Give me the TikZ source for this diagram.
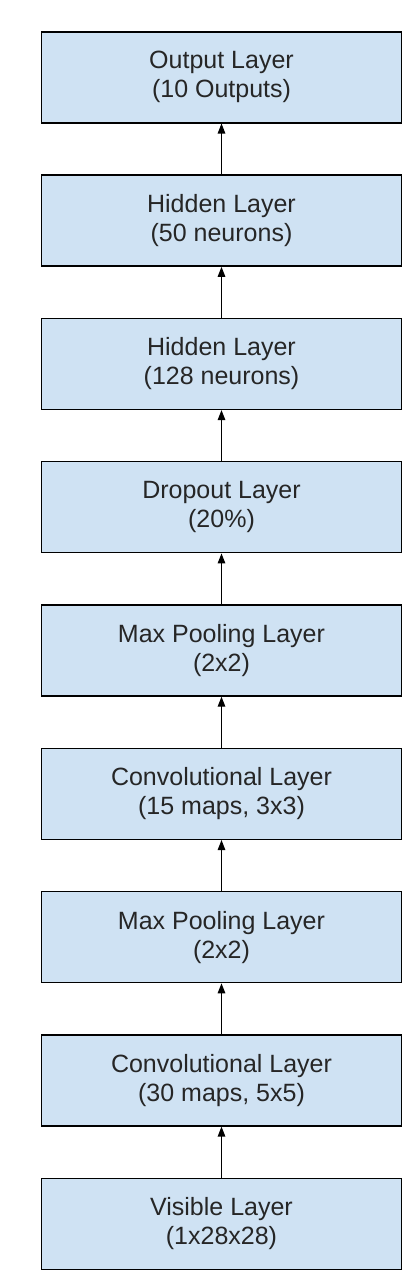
\documentclass[tikz,border=0pt]{standalone}
\usepackage{fontspec}
\setmainfont{Liberation Sans}
\usetikzlibrary{arrows.meta,positioning}
\definecolor{layerfill}{HTML}{CFE2F3}
\definecolor{layertext}{HTML}{262626}
\tikzset{
  layerbox/.style={draw=black, line width=1.4pt, fill=layerfill, text=layertext,
    minimum width=360pt, minimum height=91pt, align=center, inner sep=0pt,
    font=\fontsize{25}{29}\selectfont},
  flow/.style={line width=1.3pt, -{Triangle[length=10pt,width=7.5pt]}}
}

\begin{document}
\begin{tikzpicture}[x=1pt,y=1pt]
    % Rahmen
    \useasboundingbox (0,0) rectangle (418,-1282);
    % Schichten
    \node[layerbox] (output) at (221.5,-77.3) {Output Layer\\(10 Outputs)};
    \node[layerbox, below=50.9pt of output] (hidden2) {Hidden Layer\\(50 neurons)};
    \node[layerbox, below=50.9pt of hidden2] (hidden1) {Hidden Layer\\(128 neurons)};
    \node[layerbox, below=50.9pt of hidden1] (dropout) {Dropout Layer\\(20\%)};
    \node[layerbox, below=50.9pt of dropout] (pool2) {Max Pooling Layer\\(2x2)};
    \node[layerbox, below=50.9pt of pool2] (conv2) {Convolutional Layer\\(15 maps, 3x3)};
    \node[layerbox, below=50.9pt of conv2] (pool1) {Max Pooling Layer\\(2x2)};
    \node[layerbox, below=50.9pt of pool1] (conv1) {Convolutional Layer\\(30 maps, 5x5)};
    \node[layerbox, below=50.9pt of conv1] (visible) {Visible Layer\\(1x28x28)};
    % Pfeile
    \foreach \from/\to in {visible/conv1, conv1/pool1, pool1/conv2, conv2/pool2,
        pool2/dropout, dropout/hidden1, hidden1/hidden2, hidden2/output}
      \draw[flow] (\from.north) -- (\to.south);
\end{tikzpicture}
\end{document}
